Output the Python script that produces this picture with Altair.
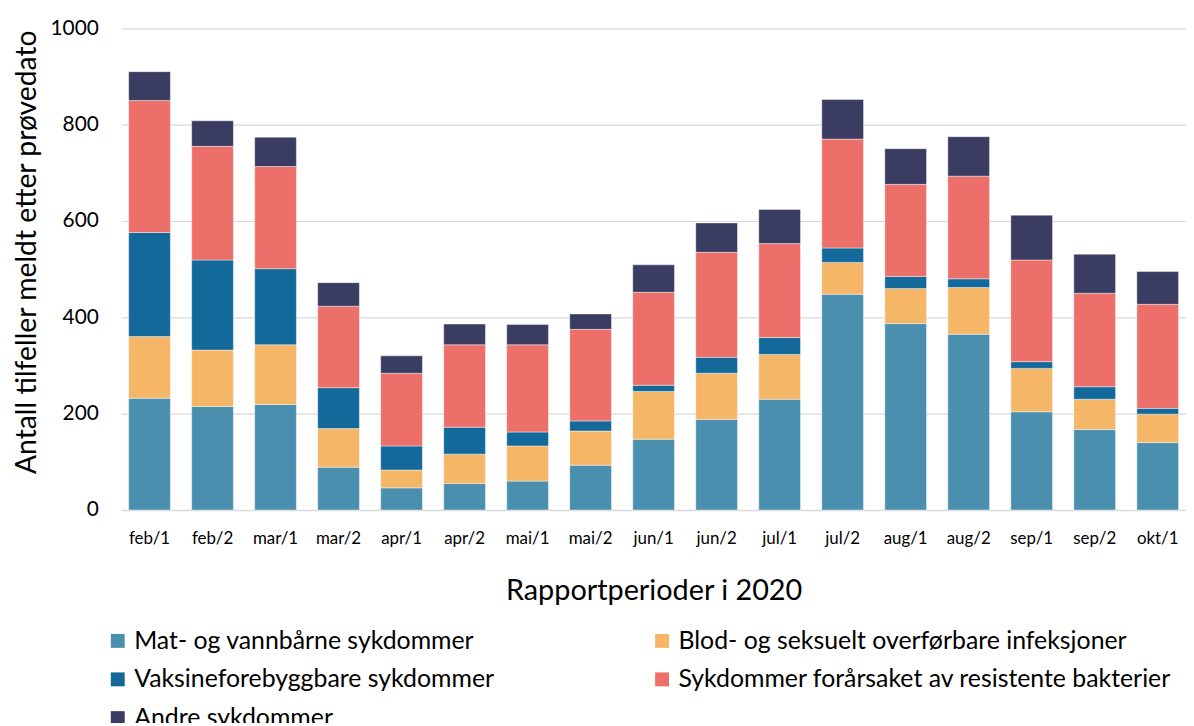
import altair as alt
import pandas as pd

periods = ["feb/1", "feb/2", "mar/1", "mar/2", "apr/1", "apr/2", "mai/1", "mai/2",
           "jun/1", "jun/2", "jul/1", "jul/2", "aug/1", "aug/2", "sep/1", "sep/2", "okt/1"]

series_names = [
    "Mat- og vannbårne sykdommer",
    "Blod- og seksuelt overførbare infeksjoner",
    "Vaksineforebyggbare sykdommer",
    "Sykdommer forårsaket av resistente bakterier",
    "Andre sykdommer",
]
series_colors = ["#4A8FAD", "#F5B667", "#136999", "#ED6F69", "#3A3C61"]

mat = [232, 215, 219, 89, 46, 55, 60, 93, 147, 188, 230, 448, 387, 365, 204, 167, 140]
blod = [128, 117, 124, 80, 37, 61, 73, 71, 99, 96, 93, 66, 73, 97, 90, 63, 59]
vaksine = [216, 187, 158, 85, 50, 56, 29, 21, 13, 33, 35, 30, 25, 18, 14, 26, 12]
resistente = [274, 236, 212, 169, 151, 171, 181, 190, 193, 218, 195, 226, 191, 213, 211, 194, 216]
andre = [60, 53, 61, 49, 36, 43, 42, 32, 57, 61, 71, 82, 74, 82, 93, 81, 68]

y_ticks = [0, 200, 400, 600, 800, 1000]

series_values = [mat, blod, vaksine, resistente, andre]
rows = []
for i, p in enumerate(periods):
    for k, (name, vals) in enumerate(zip(series_names, series_values)):
        rows.append({"period": p, "series": name, "value": vals[i], "order": k})
df = pd.DataFrame(rows)

# legend fills column by column: arrange so that it reads row by row like the reference
legend_order = [0, 2, 4, 1, 3]
legend_domain = [series_names[i] for i in legend_order]
legend_range = [series_colors[i] for i in legend_order]

chart = alt.Chart(df).mark_bar(stroke="white", strokeWidth=0.6, strokeOpacity=0.7).encode(
    x=alt.X("period:N", sort=periods,
            scale=alt.Scale(paddingInner=0.338, paddingOuter=0.118),
            axis=alt.Axis(title="Rapportperioder i 2020", labelAngle=0, labelFontSize=17,
                          labelPadding=21, ticks=False, domainColor="#d9d9d9", domainWidth=1.5,
                          titleFontSize=29, titlePadding=30, titleFontWeight="normal",
                          labelColor="black", titleColor="black")),
    y=alt.Y("value:Q", stack="zero", scale=alt.Scale(domain=[0, 1000]),
            axis=alt.Axis(values=y_ticks, format="d", title="Antall tilfeller meldt etter prøvedato",
                          grid=True, gridColor="#d9d9d9", gridWidth=1.2, domain=False, ticks=False,
                          labelPadding=23, labelFontSize=21, titleFontSize=28.5,
                          titleFontWeight="normal", titleX=-80, titleY=225,
                          labelColor="black", titleColor="black")),
    color=alt.Color("series:N", scale=alt.Scale(domain=legend_domain, range=legend_range),
                    legend=alt.Legend(title=None, orient="none", legendX=-16, legendY=604,
                                      columns=2, symbolType="square", symbolSize=196,
                                      symbolStrokeWidth=0, symbolOpacity=1, labelFontSize=25,
                                      labelOffset=4, rowPadding=13, columnPadding=156,
                                      padding=0, labelLimit=700, labelColor="black")),
    order=alt.Order("order:Q"),
).properties(
    width=1072, height=485,
    autosize=alt.AutoSizeParams(type="none"),
    padding={"left": 114, "top": 18, "right": 0, "bottom": 212},
).configure(font="Lato").configure_view(stroke=None)

chart.save("out.html", embed_options={"renderer": "svg", "actions": False})
